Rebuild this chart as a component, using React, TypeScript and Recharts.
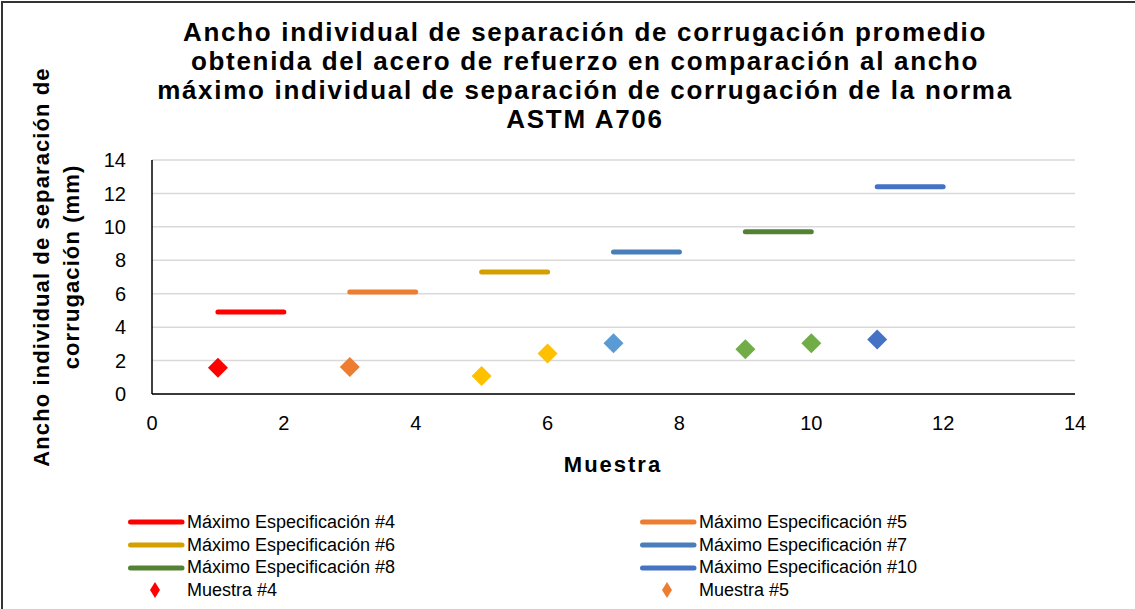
import React from "react";
import { ScatterChart, Scatter, XAxis, YAxis, CartesianGrid } from "recharts";

// rebar sizes and the ASTM A706 max gap width for each
const sizes = ["#4", "#5", "#6", "#7", "#8", "#10"];
const maxStart = [1, 3, 5, 7, 9, 11];
const maxEnd = [2, 4, 6, 8, 10, 12];
const maxWidth = [4.9, 6.1, 7.3, 8.5, 9.7, 12.4];

// measured average gap width per sample (mm)
const sampleIndex = [[1], [3], [5, 6], [7], [9, 10], [11]];
const sampleWidth = [[1.57], [1.61], [1.08, 2.43], [3.04], [2.68, 3.04], [3.26]];

const axisTicks = [0, 2, 4, 6, 8, 10, 12, 14];

const lineColors = ["#FF0000", "#ED7D31", "#D4A000", "#4A7EBB", "#548235", "#4472C4"];
const markerColors = ["#FF0000", "#ED7D31", "#FFC000", "#5B9BD5", "#70AD47", "#4472C4"];

const FONT = "Arial, 'Liberation Sans', sans-serif";

const title = [
  "Ancho individual de separación de corrugación promedio",
  "obtenida del acero de refuerzo en comparación al ancho",
  "máximo individual de separación de corrugación de la norma",
  "ASTM A706",
];

// only the first rows of the legend fit inside the frame
const LEGEND_VISIBLE = 8;

const Diamond = (props: any) => {
  const { cx, cy, fill } = props;
  if (cx == null || cy == null) return <g />;
  const r = 10;
  return (
    <polygon
      points={`${cx},${cy - r} ${cx + r},${cy} ${cx},${cy + r} ${cx - r},${cy}`}
      fill={fill}
    />
  );
};

const NoDot = () => <g />;

export default function App() {
  const maxSeries = sizes.map((s, i) => ({
    name: `Máximo Especificación ${s}`,
    color: lineColors[i],
    data: [
      { x: maxStart[i], y: maxWidth[i] },
      { x: maxEnd[i], y: maxWidth[i] },
    ],
  }));
  const sampleSeries = sizes.map((s, i) => ({
    name: `Muestra ${s}`,
    color: markerColors[i],
    data: sampleIndex[i].map((x, j) => ({ x, y: sampleWidth[i][j] })),
  }));

  const legendItems = [
    ...maxSeries.map((s) => ({ ...s, kind: "line" })),
    ...sampleSeries.map((s) => ({ ...s, kind: "marker" })),
  ].slice(0, LEGEND_VISIBLE);

  return (
    <div
      style={{
        position: "absolute",
        left: 0,
        top: 0,
        width: 1135,
        height: 609,
        overflow: "hidden",
        background: "#fff",
        fontFamily: FONT,
      }}
    >
      <div
        style={{
          position: "absolute",
          left: 1,
          top: 1,
          width: 1300,
          height: 800,
          border: "2px solid #333",
        }}
      />
      <div
        style={{
          position: "absolute",
          left: 85,
          top: 18,
          width: 1000,
          textAlign: "center",
          fontWeight: "bold",
          fontSize: 26,
          letterSpacing: 1.7,
          lineHeight: "29px",
          color: "#000",
        }}
      >
        {title.map((t) => (
          <div key={t}>{t}</div>
        ))}
      </div>
      <div
        style={{
          position: "absolute",
          left: 57 - 230,
          top: 267 - 30,
          width: 460,
          height: 60,
          lineHeight: "30px",
          textAlign: "center",
          fontWeight: "bold",
          fontSize: 22,
          letterSpacing: 1.1,
          transform: "rotate(-90deg)",
          transformOrigin: "center",
          color: "#000",
        }}
      >
        <div>Ancho individual de separación de</div>
        <div>corrugación (mm)</div>
      </div>
      <div
        style={{
          position: "absolute",
          left: 513,
          top: 451,
          width: 200,
          textAlign: "center",
          fontWeight: "bold",
          fontSize: 22,
          letterSpacing: 2,
          lineHeight: "28px",
          color: "#000",
        }}
      >
        Muestra
      </div>

      <div style={{ position: "absolute", left: 0, top: 0 }}>
        <ScatterChart
          width={1135}
          height={609}
          margin={{ top: 160, right: 60, bottom: 185, left: 0 }}
        >
          <CartesianGrid vertical={false} stroke="#D9D9D9" strokeWidth={1.5} />
          <XAxis
            type="number"
            dataKey="x"
            domain={[0, 14]}
            ticks={axisTicks}
            height={30}
            tickLine={false}
            tickSize={0}
            tickMargin={22}
            axisLine={{ stroke: "#000", strokeWidth: 1.5 }}
            tick={{ fill: "#000", fontSize: 20, fontFamily: FONT }}
            interval={0}
          />
          <YAxis
            type="number"
            dataKey="y"
            domain={[0, 14]}
            ticks={axisTicks}
            width={152}
            tickLine={false}
            tickSize={0}
            tickMargin={26}
            axisLine={{ stroke: "#000", strokeWidth: 1.5 }}
            tick={{ fill: "#000", fontSize: 20, fontFamily: FONT }}
            interval={0}
          />
          {maxSeries.map((s) => (
            <Scatter
              key={s.name}
              name={s.name}
              data={s.data}
              fill={s.color}
              line={{ stroke: s.color, strokeWidth: 5, strokeLinecap: "round" }}
              lineType="joint"
              shape={NoDot}
              isAnimationActive={false}
            />
          ))}
          {sampleSeries.map((s) => (
            <Scatter
              key={s.name}
              name={s.name}
              data={s.data}
              fill={s.color}
              shape={Diamond}
              isAnimationActive={false}
            />
          ))}
        </ScatterChart>
      </div>

      <div
        style={{
          position: "absolute",
          left: 128,
          top: 511,
          width: 1000,
          display: "grid",
          gridTemplateColumns: "512px 488px",
          gridAutoRows: "22.7px",
          fontSize: 18,
          color: "#000",
        }}
      >
        {legendItems.map((it) => (
          <div
            key={it.name}
            style={{ display: "flex", alignItems: "center", whiteSpace: "nowrap" }}
          >
            <svg width={59} height={20} style={{ flex: "none" }}>
              {it.kind === "line" ? (
                <line
                  x1={2.5}
                  x2={54}
                  y1={10}
                  y2={10}
                  stroke={it.color}
                  strokeWidth={5}
                  strokeLinecap="round"
                />
              ) : (
                <polygon points="27,2 32,10 27,18 22,10" fill={it.color} />
              )}
            </svg>
            <span>{it.name}</span>
          </div>
        ))}
      </div>
    </div>
  );
}
